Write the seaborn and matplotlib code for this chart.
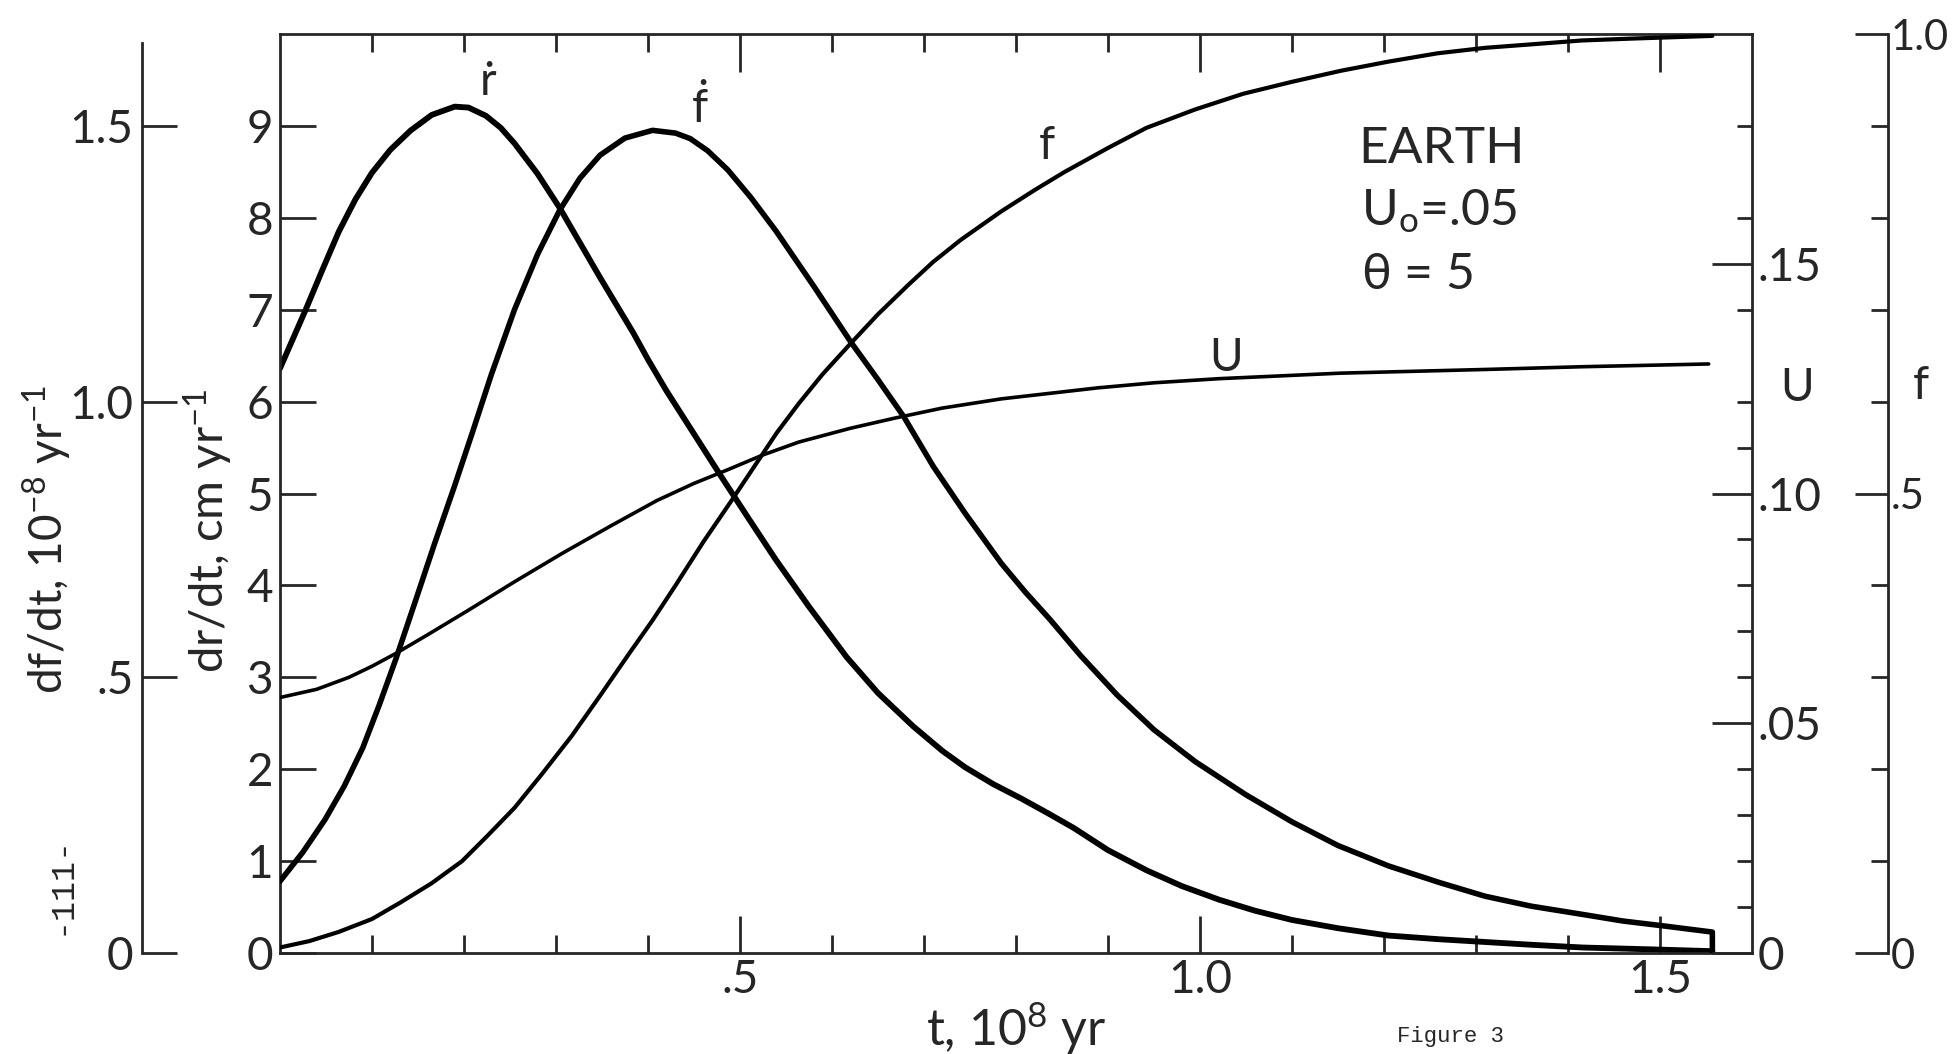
import matplotlib
matplotlib.use("Agg")
import matplotlib.pyplot as plt
import seaborn as sns

# --- data ---
# t in 10^8 yr
t_rdot = [0.0, 0.014, 0.028, 0.046, 0.064, 0.082, 0.10, 0.12, 0.142, 0.165, 0.19, 0.205, 0.224,
          0.24, 0.255, 0.28, 0.304, 0.326, 0.348, 0.366, 0.384, 0.40, 0.42, 0.45, 0.48, 0.51,
          0.539, 0.575, 0.616, 0.65, 0.688, 0.72, 0.745, 0.775, 0.806, 0.835, 0.863, 0.90,
          0.942, 0.98, 1.021, 1.06, 1.10, 1.15, 1.205, 1.26, 1.31, 1.36, 1.416, 1.49, 1.557]
rdot = [6.36, 6.68, 7.0, 7.43, 7.85, 8.2, 8.49, 8.74, 8.95, 9.12, 9.21, 9.2, 9.11,
        8.98, 8.81, 8.48, 8.11, 7.73, 7.35, 7.05, 6.75, 6.46, 6.12, 5.65, 5.18, 4.72,
        4.28, 3.77, 3.22, 2.83, 2.47, 2.2, 2.02, 1.84, 1.68, 1.52, 1.36, 1.12,
        0.90, 0.73, 0.58, 0.46, 0.36, 0.27, 0.19, 0.15, 0.12, 0.09, 0.06, 0.04, 0.02]  # dr/dt, cm/yr

t_fdot = [0.0, 0.025, 0.049, 0.07, 0.09, 0.108, 0.126, 0.147, 0.168, 0.189, 0.209, 0.23, 0.255,
          0.28, 0.304, 0.326, 0.348, 0.375, 0.405, 0.43, 0.446, 0.465, 0.487, 0.512, 0.539,
          0.58, 0.621, 0.65, 0.678, 0.71, 0.745, 0.784, 0.81, 0.837, 0.87, 0.91, 0.95, 0.995,
          1.05, 1.10, 1.15, 1.205, 1.26, 1.31, 1.36, 1.416, 1.46, 1.50, 1.557, 1.557]
fdot = [0.130, 0.183, 0.242, 0.303, 0.372, 0.45, 0.533, 0.637, 0.742, 0.843, 0.943, 1.05, 1.167,
        1.267, 1.347, 1.405, 1.447, 1.478, 1.492, 1.487, 1.477, 1.455, 1.42, 1.37, 1.31,
        1.21, 1.107, 1.04, 0.973, 0.883, 0.797, 0.707, 0.655, 0.605, 0.54, 0.468, 0.405, 0.347,
        0.287, 0.238, 0.195, 0.158, 0.128, 0.103, 0.085, 0.07, 0.058, 0.05, 0.038, 0.0]  # df/dt, 1e-8 /yr

t_f = [0.0, 0.032, 0.064, 0.10, 0.131, 0.165, 0.198, 0.225, 0.255, 0.285, 0.317, 0.348, 0.379,
       0.405, 0.43, 0.46, 0.492, 0.518, 0.54, 0.564, 0.59, 0.621, 0.65, 0.683, 0.71, 0.74,
       0.784, 0.82, 0.853, 0.90, 0.942, 0.995, 1.047, 1.10, 1.153, 1.205, 1.258, 1.31, 1.363,
       1.415, 1.468, 1.557]
f_vals = [0.006, 0.013, 0.023, 0.037, 0.055, 0.076, 0.10, 0.127, 0.158, 0.195, 0.236, 0.28, 0.325,
          0.362, 0.40, 0.447, 0.494, 0.533, 0.566, 0.598, 0.63, 0.664, 0.695, 0.727, 0.752, 0.776,
          0.807, 0.83, 0.85, 0.876, 0.898, 0.918, 0.935, 0.948, 0.96, 0.97, 0.979, 0.985, 0.989,
          0.993, 0.995, 0.998]

t_U = [0.0, 0.04, 0.075, 0.10, 0.126, 0.16, 0.204, 0.255, 0.307, 0.36, 0.41, 0.45, 0.487, 0.525,
       0.564, 0.62, 0.668, 0.72, 0.784, 0.889, 0.95, 1.021, 1.153, 1.31, 1.416, 1.553]
U_vals = [0.0556, 0.0574, 0.0600, 0.0624, 0.0652, 0.0692, 0.0745, 0.0808, 0.0870, 0.0930, 0.0985,
          0.1022, 0.1052, 0.1084, 0.1112, 0.1142, 0.1164, 0.1186, 0.1206, 0.1230, 0.1241, 0.1250,
          0.1262, 0.1270, 0.1276, 0.1282]

# --- axis ticks ---
t_major = [0.5, 1.0, 1.5]
t_major_labels = [".5", "1.0", "1.5"]
t_minor = [0.1, 0.2, 0.3, 0.4, 0.6, 0.7, 0.8, 0.9, 1.1, 1.2, 1.3, 1.4]
drdt_ticks = list(range(10))
drdt_labels = [str(i) for i in drdt_ticks]
dfdt_ticks = [0, 0.5, 1.0, 1.5]
dfdt_labels = ["0", ".5", "1.0", "1.5"]
U_ticks = [0, 0.05, 0.10, 0.15]
U_labels = ["0", ".05", ".10", ".15"]
U_minor = [0.01, 0.02, 0.03, 0.04, 0.06, 0.07, 0.08, 0.09, 0.11, 0.12, 0.14, 0.16, 0.18]
f_ticks = [0, 0.5, 1.0]
f_labels = ["0", ".5", "1.0"]
f_minor = [0.1, 0.2, 0.3, 0.4, 0.6, 0.7, 0.8, 0.9]

# --- style ---
sns.set_style("white")
plt.rcParams["font.family"] = ["Lato", "DejaVu Sans"]
plt.rcParams["mathtext.fontset"] = "custom"
plt.rcParams["mathtext.rm"] = "Lato"
plt.rcParams["mathtext.it"] = "Lato:italic"
plt.rcParams["mathtext.default"] = "regular"
plt.rcParams["axes.linewidth"] = 2.0

FS = 33
LW_SP = 2.0

fig = plt.figure(figsize=(19.52, 10.54), dpi=100)
ax = fig.add_axes([0.1434, 0.0958, 0.7541, 0.8719])
ax_df = ax.twinx()
ax_U = ax.twinx()
ax_f = ax.twinx()

# curves
sns.lineplot(x=t_rdot, y=rdot, ax=ax, color="black", linewidth=4.2, sort=False, estimator=None)
sns.lineplot(x=t_fdot, y=fdot, ax=ax_df, color="black", linewidth=4.0, sort=False, estimator=None)
sns.lineplot(x=t_f, y=f_vals, ax=ax_f, color="black", linewidth=3.0, sort=False, estimator=None)
sns.lineplot(x=t_U, y=U_vals, ax=ax_U, color="black", linewidth=2.6, sort=False, estimator=None)

# main axes: t and dr/dt
ax.set_xlim(0, 1.6)
ax.set_ylim(0, 10)
ax.spines["right"].set_visible(False)
ax.set_xticks(t_major)
ax.set_xticklabels(t_major_labels)
ax.set_xticks(t_minor, minor=True)
ax.set_yticks(drdt_ticks)
ax.set_yticklabels(drdt_labels)
ax.tick_params(axis="x", which="both", direction="in", top=True, bottom=True, width=LW_SP)
ax.tick_params(axis="x", which="major", length=27, labelsize=FS, pad=4)
ax.tick_params(axis="x", which="minor", length=13)
ax.tick_params(axis="y", which="major", direction="in", left=True, right=False,
               length=26, width=LW_SP, labelsize=FS, pad=5)
ax.set_xlabel("t, 10$^8$ yr", fontsize=36, labelpad=0)
ax.set_ylabel("dr/dt, cm yr$^{-1}$", fontsize=34, ha="center", va="center")
ax.yaxis.set_label_coords(-0.049, 0.46)

# df/dt axis on far left
for s in ["top", "bottom", "right"]:
    ax_df.spines[s].set_visible(False)
ax_df.spines["left"].set_visible(True)
ax_df.spines["left"].set_position(("axes", -0.0938))
ax_df.spines["left"].set_bounds(0, 1.65)
ax_df.yaxis.set_ticks_position("left")
ax_df.yaxis.set_label_position("left")
ax_df.set_ylim(0, 10 / 6)
ax_df.set_yticks(dfdt_ticks)
ax_df.set_yticklabels(dfdt_labels)
ax_df.tick_params(axis="y", direction="in", length=25, width=LW_SP, labelsize=FS, pad=6)
ax_df.set_ylabel("df/dt, 10$^{-8}$ yr$^{-1}$", fontsize=33, ha="center", va="center")
ax_df.yaxis.set_label_coords(-0.158, 0.45)

# U axis on the right spine
for s in ["top", "bottom", "left"]:
    ax_U.spines[s].set_visible(False)
ax_U.set_ylim(0, 0.2)
ax_U.set_yticks(U_ticks)
ax_U.set_yticklabels(U_labels)
ax_U.set_yticks(U_minor, minor=True)
ax_U.tick_params(axis="y", which="both", direction="in", width=LW_SP)
ax_U.tick_params(axis="y", which="major", length=29, labelsize=FS, pad=4)
ax_U.tick_params(axis="y", which="minor", length=11)
ax_U.set_ylabel("U", fontsize=FS, rotation=0, ha="center", va="center")
ax_U.yaxis.set_label_coords(1.031, 0.615)

# f axis further right
for s in ["top", "bottom", "left"]:
    ax_f.spines[s].set_visible(False)
ax_f.spines["right"].set_position(("axes", 1.0924))
ax_f.set_ylim(0, 1.0)
ax_f.set_yticks(f_ticks)
ax_f.set_yticklabels(f_labels)
ax_f.set_yticks(f_minor, minor=True)
ax_f.tick_params(axis="y", which="both", direction="in", width=LW_SP)
ax_f.tick_params(axis="y", which="major", length=24, labelsize=30, pad=2)
ax_f.tick_params(axis="y", which="minor", length=12)
ax_f.set_ylabel("f", fontsize=FS, rotation=0, ha="center", va="center")
ax_f.yaxis.set_label_coords(1.115, 0.617)

# curve labels and parameters
ax.text(0.226, 9.48, "ṙ", fontsize=FS, ha="center", va="center")
ax.text(0.457, 9.19, "ḟ", fontsize=FS, ha="center", va="center")
ax.text(0.834, 8.78, "f", fontsize=FS, ha="center", va="center")
ax.text(1.028, 6.47, "U", fontsize=FS, ha="center", va="center")
ax.text(1.172, 8.75, "EARTH", fontsize=37, ha="left", va="center")
ax.text(1.175, 8.07, "U$_\\mathrm{o}$=.05", fontsize=36, ha="left", va="center")
ax.text(1.175, 7.38, "$\\theta$ = 5", fontsize=36, ha="left", va="center")

# page marks
fig.text(0.743, 0.017, "Figure 3", fontsize=16, family="Liberation Mono", ha="center", va="center")
fig.text(0.031, 0.16, "-111-", fontsize=24, family="Liberation Mono", rotation=90,
         ha="center", va="center")

fig.savefig("out.png", dpi=100, facecolor="white")
